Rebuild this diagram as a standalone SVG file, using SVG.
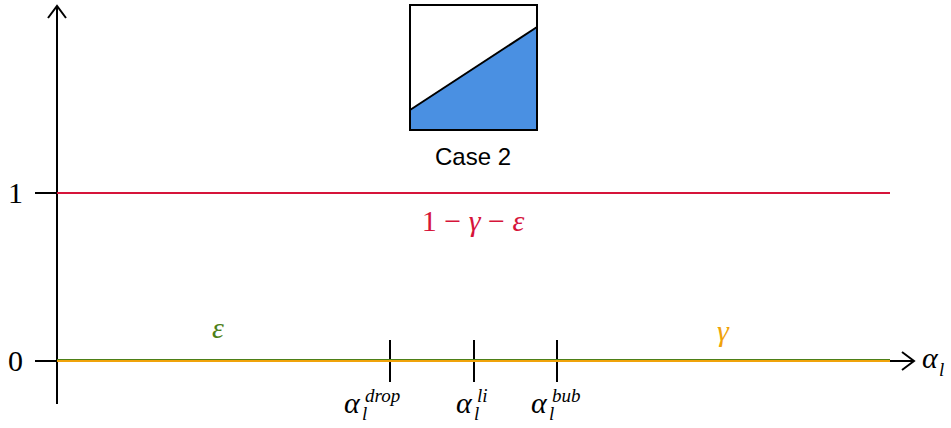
<svg xmlns="http://www.w3.org/2000/svg" width="951" height="428" viewBox="0 0 951 428">
<style>
.ax{stroke:#000;stroke-width:2;fill:none}
.s{font-family:"Liberation Serif","DejaVu Serif",serif}
.i{font-family:"Liberation Serif","DejaVu Serif",serif;font-style:italic}
.big{font-size:30px}
.sm{font-size:19px}
</style>
<defs>
<marker id="arr" markerWidth="20" markerHeight="20" refX="15" refY="10" orient="auto" markerUnits="userSpaceOnUse">
<path d="M3,1 L15,10 L3,19" fill="none" stroke="#000" stroke-width="2"/>
</marker>
</defs>
<g id="axes">
<line class="ax" x1="57" y1="404" x2="57" y2="6" marker-end="url(#arr)"/>
<line class="ax" x1="57" y1="361" x2="914" y2="361" marker-end="url(#arr)"/>
<line class="ax" x1="35" y1="193" x2="57" y2="193"/>
<line class="ax" x1="35" y1="361" x2="57" y2="361"/>
<line class="ax" x1="390" y1="340" x2="390" y2="382"/>
<line class="ax" x1="474" y1="340" x2="474" y2="382"/>
<line class="ax" x1="557" y1="340" x2="557" y2="382"/>
</g>
<g id="plot">
<line x1="57" y1="193" x2="890" y2="193" stroke="#d6143a" stroke-width="2"/>
<line x1="57" y1="359.5" x2="890" y2="359.5" stroke="#4d7f17" stroke-width="1"/>
<line x1="57" y1="361" x2="890" y2="361" stroke="#f0a30a" stroke-width="2"/>
</g>
<g id="labels">
<text class="s big" x="8" y="203">1</text>
<text class="s big" x="8" y="371">0</text>
<text class="s big" x="473" y="231" text-anchor="middle" fill="#d6143a">1 − <tspan font-style="italic">γ</tspan> − <tspan font-style="italic">ε</tspan></text>
<text class="i big" x="218" y="338" text-anchor="middle" fill="#4d7f17">ε</text>
<text class="i big" x="723" y="341" text-anchor="middle" fill="#f0a30a">γ</text>
<text class="i big" x="922" y="368">α</text>
<text class="i sm" x="939" y="376">l</text>
<text class="i big" x="344" y="413">α</text>
<text class="i sm" x="362" y="420">l</text>
<text class="i sm" x="365" y="402">drop</text>
<text class="i big" x="456" y="413">α</text>
<text class="i sm" x="474" y="420">l</text>
<text class="i sm" x="477" y="402">li</text>
<text class="i big" x="531" y="413">α</text>
<text class="i sm" x="549" y="420">l</text>
<text class="i sm" x="552" y="402">bub</text>
</g>
<g id="case2">
<rect x="410" y="5" width="127" height="125" fill="#fff" stroke="#000" stroke-width="2"/>
<polygon points="410,110 537,27 537,130 410,130" fill="#4a90e2"/>
<line x1="410" y1="110" x2="537" y2="27" stroke="#000" stroke-width="2"/>
<rect x="410" y="5" width="127" height="125" fill="none" stroke="#000" stroke-width="2"/>
<text x="473" y="165" text-anchor="middle" font-family="'Liberation Sans',Arial,sans-serif" font-size="24">Case 2</text>
</g>
</svg>
